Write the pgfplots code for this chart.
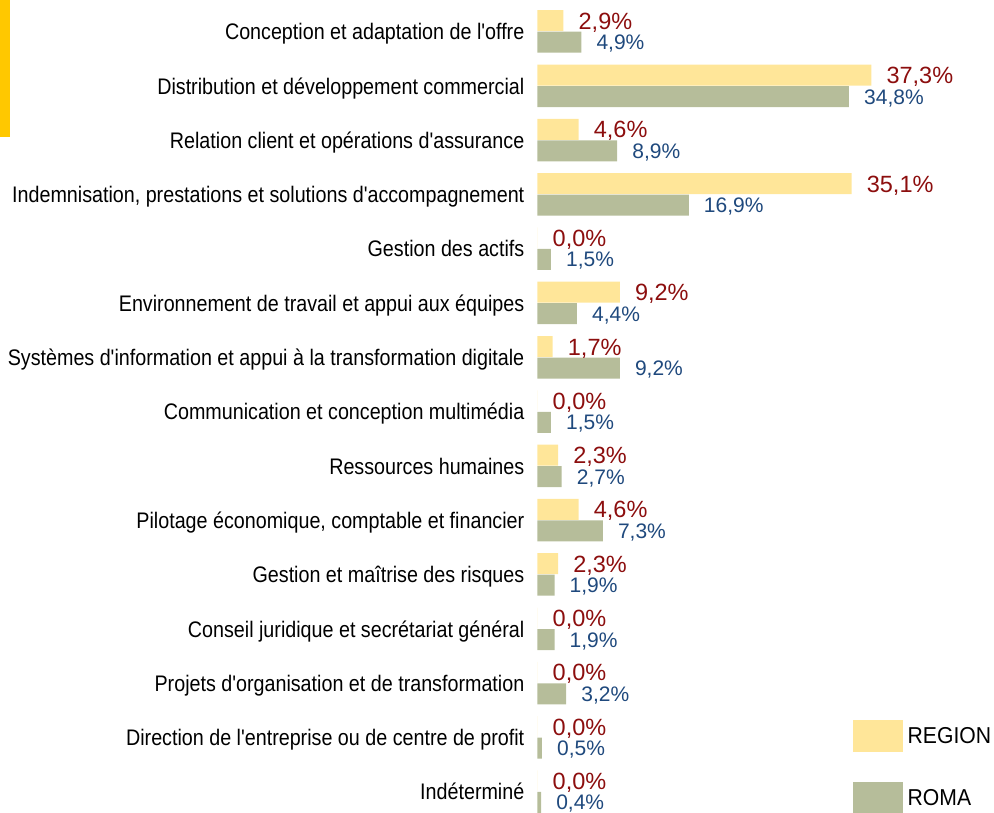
\documentclass[border=0pt]{standalone}
\usepackage{fontspec}
\setmainfont{Liberation Sans}
\newfontfamily\narrowfont{Liberation Sans}[FakeStretch=0.876]
\newfontfamily\legfont{Liberation Sans}[FakeStretch=0.92]
\usepackage{pgfplots}
\pgfplotsset{compat=1.18}
\definecolor{regfill}{RGB}{255,230,153}
\definecolor{romafill}{RGB}{182,189,154}
\definecolor{regtext}{RGB}{140,14,14}
\definecolor{romatext}{RGB}{31,73,125}
\definecolor{gold}{RGB}{255,200,0}
\begin{document}
\begin{tikzpicture}[x=1pt,y=1pt]
\path[use as bounding box] (0,0) rectangle (994,812);
\fill[gold] (0,675.3) rectangle (10,812);
\begin{axis}[
  at={(537.5pt,-6.85pt)}, anchor=south west,
  scale only axis, width=358pt, height=814.5pt,
  xmin=0, xmax=40, ymin=-0.5, ymax=14.5,
  clip=false,
  hide x axis,
  y axis line style={draw=none},
  major tick length=0pt,
  ytick={0,...,14},
  yticklabels={Indéterminé,
    Direction de l'entreprise ou de centre de profit,
    Projets d'organisation et de transformation,
    Conseil juridique et secrétariat général,
    Gestion et maîtrise des risques,
    {Pilotage économique, comptable et financier},
    Ressources humaines,
    Communication et conception multimédia,
    Systèmes d'information et appui à la transformation digitale,
    Environnement de travail et appui aux équipes,
    Gestion des actifs,
    {Indemnisation, prestations et solutions d'accompagnement},
    Relation client et opérations d'assurance,
    Distribution et développement commercial,
    Conception et adaptation de l'offre},
  yticklabel style={font=\narrowfont\fontsize{22.5}{27}\selectfont, anchor=base east, inner sep=0pt, xshift=-13pt, yshift=-8.3pt, text=black},
  xbar, bar width=21pt,
  /pgf/number format/assume math mode=true,
  nodes near coords={\pgfmathprintnumber[fixed,fixed zerofill,precision=1,use comma]{\pgfplotspointmeta}\%},
  legend style={at={(0.8804,0.1214)}, anchor=north west, draw=none, fill=none,
    inner sep=0pt, outer sep=0pt, row sep=30pt, column sep=5pt,
    font=\legfont\fontsize{23}{27}\selectfont,
    nodes={inner sep=0pt}},
  legend cell align=left,
  legend image code/.code={\fill[#1] (0pt,-16pt) rectangle (50pt,16pt);},
]
\addplot[fill=regfill, draw=none, bar shift=10.75pt,
  every node near coord/.append style={anchor=base west, inner sep=0pt, xshift=15pt, yshift=-8.5pt, text=regtext, font=\fontsize{23.5}{28}\selectfont}]
  coordinates {(0.0,0) (0.0,1) (0.0,2) (0.0,3) (2.3,4) (4.6,5) (2.3,6) (0.0,7) (1.7,8) (9.2,9) (0.0,10) (35.1,11) (4.6,12) (37.3,13) (2.9,14)};
\addlegendentry{REGION}
\addplot[fill=romafill, draw=none, bar shift=-10.75pt,
  every node near coord/.append style={anchor=base west, inner sep=0pt, xshift=15pt, yshift=-7.5pt, text=romatext, font=\fontsize{21}{25}\selectfont}]
  coordinates {(0.4,0) (0.5,1) (3.2,2) (1.9,3) (1.9,4) (7.3,5) (2.7,6) (1.5,7) (9.2,8) (4.4,9) (1.5,10) (16.9,11) (8.9,12) (34.8,13) (4.9,14)};
\addlegendentry{ROMA}
\end{axis}
\end{tikzpicture}
\end{document}
